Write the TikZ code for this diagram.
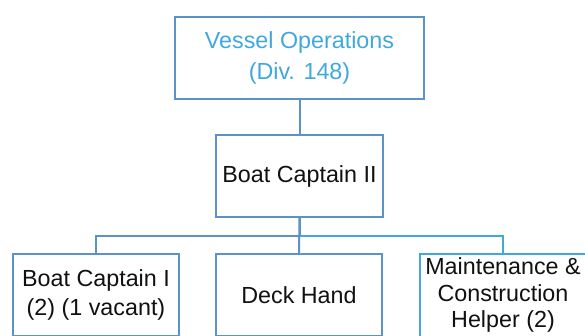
\documentclass[tikz,border=0pt]{standalone}
\usepackage{fontspec}
\setmainfont{Liberation Sans}
\definecolor{steel}{HTML}{5B93C9}
\definecolor{sky}{HTML}{41A8DE}
\definecolor{ink}{HTML}{111111}
\begin{document}
\begin{tikzpicture}[x=1pt,y=-1pt,
  box/.style={draw=steel, line width=2pt, fill=white, inner sep=0pt,
    align=center, text=ink, minimum width=166pt, minimum height=82pt},
  txt/.style={font=\fontsize{23.3}{#1}\selectfont},
  link/.style={draw=steel, line width=2pt},
  skylink/.style={draw=sky, line width=2pt}]
\useasboundingbox (0,0) rectangle (585,335);
\clip (0,0) rectangle (585,335);

% divisions and positions
\node[box, txt=31, text=sky, minimum width=249pt] (div) at (299.5,58)
  {Vessel Operations\\(Div. 148)};
\node[box, txt=29, minimum width=167pt] (bc2) at (299.5,176) {Boat Captain II};
\node[box, txt=29] (bc1) at (96,295) {Boat Captain I\\(2) (1 vacant)};
\node[box, txt=29] (dh) at (299,295) {Deck Hand};
\node[box, txt=26.5, draw=none, outer sep=0pt] (mch) at (503,295)
  {Maintenance \&\\Construction\\Helper (2)};
% its frame runs off the right edge
\draw[skylink] (mch.south west) -- (mch.north west) -- ++(200,0);

% reporting lines
\draw[link] (div.south) -- (bc2.north);
\draw[link] (bc2.south) -- (bc2.south |- 0,236) -| (bc1.north);
\draw[link] (bc2.south) -- (dh.north);
\draw[skylink] (bc2.south |- 0,236) -| (mch.north);
\end{tikzpicture}
\end{document}
